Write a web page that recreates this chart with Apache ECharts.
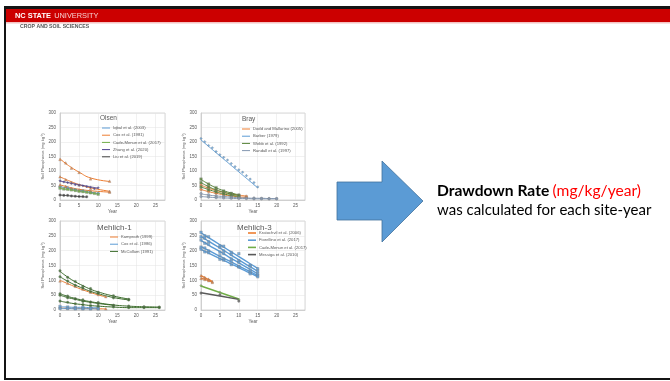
<!DOCTYPE html>
<html>
<head>
<meta charset="utf-8">
<script src="https://cdn.jsdelivr.net/npm/echarts/dist/echarts.min.js"></script>
<style>
html,body{margin:0;padding:0;background:#fff;}
#c{width:670px;height:381px;}
</style>
</head>
<body>
<div id="c"></div>
<script>
// Axis ticks shared by the four panels
const yearTicks = [0, 5, 10, 15, 20, 25];
const soilPTicks = [0, 50, 100, 150, 200, 250, 300];

// ---- Olsen ----
const olsenIqbalYears = [0, 2, 4, 6, 8, 10];
const olsenIqbalP   = [[46, 42, 35, 32, 26, 23]];
const olsenIqbalFit = [[46, 41, 36, 31, 27, 22]];

const olsenCoxYears = [0, 1.5, 3, 5, 8, 13];
const olsenCoxP   = [[140, 128, 110, 95, 73, 65], [80, 70, 60, 52, 40, 30], [52, 47, 40, 35, 30, 27]];
const olsenCoxFit = [[142, 126, 112, 96, 76, 64], [80, 71, 63, 53, 42, 30], [52, 47, 42, 37, 32, 27]];

const olsenCadeYears = [0, 1, 2, 3, 4, 5, 6, 7, 8, 9, 10];
const olsenCadeP   = [[41, 38, 37, 35, 33, 30, 29, 27, 25, 23, 20]];
const olsenCadeFit = [[40, 38, 36, 34, 32, 30, 28, 26, 24, 22, 20]];

const olsenZhangYears = [0, 1, 2, 3, 4, 5, 6, 7, 8, 9, 10];
const olsenZhangP   = [[66, 62, 60, 57, 53, 51, 49, 46, 44, 39, 42]];
const olsenZhangFit = [[65, 63, 60, 58, 55, 53, 50, 48, 45, 43, 40]];

const olsenLiuYears = [0, 1, 2, 3, 4, 5, 6, 7];
const olsenLiuP   = [[17, 16, 16, 14, 13, 12, 12, 11]];
const olsenLiuFit = [[17, 16, 15, 14, 13, 12, 11, 10]];

// ---- Bray ----
const brayDoddYears = [0, 2, 4, 6, 8, 10, 12];
const brayDoddP   = [[52, 42, 33, 26, 20, 16, 13], [36, 29, 23, 18, 14, 11, 9]];
const brayDoddFit = [[51, 41, 33, 26, 21, 17, 13], [36, 29, 23, 18, 14, 11, 9]];

const brayBarberYears = [0, 1, 2, 3, 4, 5, 6, 7, 8, 9, 10, 11, 12, 13, 14, 15];
const brayBarberP   = [[212, 201, 188, 180, 167, 156, 147, 138, 126, 115, 104, 96, 84, 72, 60, 45]];
const brayBarberFit = [[207, 196, 185, 174, 163, 152, 141, 130, 119, 108, 97, 86, 75, 64, 53, 42]];

const brayWebbYears = [0, 2, 4, 6, 8, 10];
const brayWebbP   = [[72, 55, 42, 31, 23, 17], [60, 46, 35, 26, 20, 15], [45, 35, 28, 21, 16, 12]];
const brayWebbFit = [[71, 55, 42, 32, 24, 18], [60, 46, 35, 27, 20, 15], [45, 36, 28, 21, 16, 12]];

const brayRandallYears = [0, 2, 4, 6, 8, 10, 12, 14, 16, 18, 20];
const brayRandallP   = [[22, 18, 14, 12, 10, 8, 7, 7, 6, 5, 5], [12, 10, 8, 7, 6, 5, 5, 4, 4, 4, 4]];
const brayRandallFit = [[21, 17, 14, 12, 10, 8, 7, 6, 6, 5, 5], [12, 10, 8, 7, 6, 5, 5, 4, 4, 4, 4]];

// ---- Mehlich-1 ----
const m1KamprathYears = [0, 2, 4, 6, 8, 10, 12];
const m1KamprathP   = [[98, 90, 80, 70, 60, 52, 45], [8, 6, 6, 5, 5, 4, 4]];
const m1KamprathFit = [[100, 89, 78, 68, 59, 51, 44], [7, 6, 6, 5, 5, 4, 4]];

const m1CoxYears = [0, 2, 4, 6, 8, 10];
const m1CoxP   = [[12, 10, 9, 9, 8, 8], [5, 5, 4, 4, 4, 4]];
const m1CoxFit = [[11, 10, 9, 9, 8, 8], [5, 5, 4, 4, 4, 4]];

const m1McCollumYears = [0, 2, 4, 6, 8, 10, 14, 18, 22, 26];
const m1McCollumP = [
  [132, 110, 96, 80, 72, 60, 48, 36, null, null],
  [112, 98, 83, 74, 62, 56, 41, 34, null, null],
  [55, 47, 38, 34, 27, 25, 16, 13, 11, 10],
  [50, 41, 37, 29, 26, 21, 15, null, null, null],
  [30, 26, 21, 18, 15, 13, 10, 8, 8, 8]
];
const m1McCollumFit = [
  [130, 111, 95, 82, 70, 61, 47, 37, null, null],
  [112, 97, 84, 73, 63, 55, 42, 34, null, null],
  [55, 46, 39, 33, 28, 24, 17, 13, 11, 10],
  [50, 42, 36, 30, 26, 22, 16, null, null, null],
  [30, 25, 21, 18, 15, 13, 10, 8, 8, 8]
];

// ---- Mehlich-3 ----
const m3KratochvilYears = [0, 1, 2, 3];
const m3KratochvilP   = [[116, 110, 104, 96], [106, 103, 99, 93]];
const m3KratochvilFit = [[116, 109, 103, 96], [107, 103, 99, 94]];

const m3FiorellinoYears = [0, 1, 2, 5, 6, 8, 10, 13, 15];
const m3FiorellinoP = [
  [262, 250, 247, 216, 215, 194, 190, 150, 139],
  [247, 242, 230, 211, 199, 187, 166, 148, 131],
  [236, 225, 221, 195, 190, 172, 161, 135, 123],
  [212, 209, 199, 183, 172, 164, 147, 127, 117],
  [205, 196, 193, 171, 168, 153, 145, 122, 112]
];
const m3FiorellinoFit = [
  [260, 252, 244, 220, 212, 196, 180, 156, 140],
  [248, 240, 232, 209, 201, 185, 169, 146, 130],
  [234, 227, 219, 197, 189, 174, 159, 137, 122],
  [214, 207, 201, 181, 175, 162, 149, 129, 116],
  [204, 198, 192, 173, 167, 155, 143, 124, 112]
];

const m3CadeYears = [0, 5, 10];
const m3CadeP   = [[82, 60, 36]];
const m3CadeFit = [[81, 59, 37]];

const m3MessigaYears = [0, 5, 10];
const m3MessigaP   = [[57, 51, 30]];
const m3MessigaFit = [[58, 47, 36]];

// Panel layout and study styling
const panels = [
  { title: 'Olsen', grid: { left: 60, top: 113, width: 105, height: 87 },
    titlePos: { left: 100, top: 115 }, legendPos: { left: 102, top: 126 }, lineW: 1,
    studies: [
      { name: 'Iqbal et al. (2003)', color: '#5B9BD5', symbol: 'circle', years: olsenIqbalYears, p: olsenIqbalP, fit: olsenIqbalFit },
      { name: 'Cox et al. (1981)', color: '#ED7D31', symbol: 'triangle', years: olsenCoxYears, p: olsenCoxP, fit: olsenCoxFit },
      { name: 'Cade-Menun et al. (2017)', color: '#70AD47', symbol: 'rect', years: olsenCadeYears, p: olsenCadeP, fit: olsenCadeFit },
      { name: 'Zhang et al. (2020)', color: '#4B3F8F', symbol: 'diamond', years: olsenZhangYears, p: olsenZhangP, fit: olsenZhangFit },
      { name: 'Liu et al. (2019)', color: '#404040', symbol: 'circle', years: olsenLiuYears, p: olsenLiuP, fit: olsenLiuFit }
    ] },
  { title: 'Bray', grid: { left: 201, top: 113, width: 104, height: 87 },
    titlePos: { left: 242, top: 116 }, legendPos: { left: 242, top: 127 }, lineW: 1,
    studies: [
      { name: 'Dodd and Mallarino (2005)', color: '#ED7D31', symbol: 'circle', years: brayDoddYears, p: brayDoddP, fit: brayDoddFit },
      { name: 'Barber (1979)', color: '#5B9BD5', symbol: 'diamond', years: brayBarberYears, p: brayBarberP, fit: brayBarberFit },
      { name: 'Webb et al. (1992)', color: '#548235', symbol: 'rect', years: brayWebbYears, p: brayWebbP, fit: brayWebbFit },
      { name: 'Randall et al. (1997)', color: '#8497B0', symbol: 'circle', years: brayRandallYears, p: brayRandallP, fit: brayRandallFit }
    ] },
  { title: 'Mehlich-1', grid: { left: 60, top: 221, width: 105, height: 89 },
    titlePos: { left: 97, top: 224 }, legendPos: { left: 110, top: 235 }, lineW: 1,
    studies: [
      { name: 'Kamprath (1999)', color: '#ED7D31', symbol: 'triangle', years: m1KamprathYears, p: m1KamprathP, fit: m1KamprathFit },
      { name: 'Cox et al. (1986)', color: '#5B9BD5', symbol: 'rect', years: m1CoxYears, p: m1CoxP, fit: m1CoxFit },
      { name: 'McCollum (1991)', color: '#3A6B2A', symbol: 'circle', years: m1McCollumYears, p: m1McCollumP, fit: m1McCollumFit }
    ] },
  { title: 'Mehlich-3', grid: { left: 201, top: 221, width: 104, height: 89 },
    titlePos: { left: 237, top: 224 }, legendPos: { left: 248, top: 231 }, lineW: 1.4,
    studies: [
      { name: 'Kratochvil et al. (2006)', color: '#ED7D31', symbol: 'triangle', years: m3KratochvilYears, p: m3KratochvilP, fit: m3KratochvilFit },
      { name: 'Fiorellino et al. (2017)', color: '#5B9BD5', symbol: 'rect', years: m3FiorellinoYears, p: m3FiorellinoP, fit: m3FiorellinoFit },
      { name: 'Cade-Menun et al. (2017) ', color: '#70AD47', symbol: 'diamond', years: m3CadeYears, p: m3CadeP, fit: m3CadeFit },
      { name: 'Messiga et al. (2010)', color: '#595959', symbol: 'circle', years: m3MessigaYears, p: m3MessigaP, fit: m3MessigaFit }
    ] }
];

const labelColor = '#595959';
const grids = [], xAxes = [], yAxes = [], titles = [], legends = [], series = [];

panels.forEach((pn, g) => {
  grids.push(Object.assign({ show: true, borderColor: '#BFBFBF', borderWidth: 0.6, backgroundColor: '#fff' }, pn.grid));
  xAxes.push({
    gridIndex: g, type: 'value', min: yearTicks[0], max: 27.5, interval: yearTicks[1] - yearTicks[0],
    name: 'Year', nameLocation: 'middle', nameGap: 9,
    nameTextStyle: { fontSize: 4.5, color: labelColor, fontFamily: 'Liberation Sans' },
    axisLine: { show: true, lineStyle: { color: '#BFBFBF', width: 0.6 } },
    axisTick: { show: false },
    axisLabel: { fontSize: 4.5, color: labelColor, margin: 3, showMaxLabel: false, fontFamily: 'Liberation Sans',
      formatter: v => (yearTicks.indexOf(v) >= 0 ? String(v) : '') },
    splitLine: { show: true, lineStyle: { color: '#E3E3E3', width: 0.5 } }
  });
  yAxes.push({
    gridIndex: g, type: 'value', min: soilPTicks[0], max: soilPTicks[soilPTicks.length - 1],
    interval: soilPTicks[1] - soilPTicks[0],
    name: 'Soil Phosphorus (mg kg\u207B\u00B9)', nameLocation: 'middle', nameGap: 14,
    nameTextStyle: { fontSize: 4, color: labelColor, fontFamily: 'Liberation Sans' },
    axisLine: { show: true, lineStyle: { color: '#BFBFBF', width: 0.6 } },
    axisTick: { show: false },
    axisLabel: { fontSize: 4.5, color: labelColor, margin: 4, fontFamily: 'Liberation Sans' },
    splitLine: { show: true, lineStyle: { color: '#E3E3E3', width: 0.5 } }
  });
  titles.push({
    text: pn.title, left: pn.titlePos.left, top: pn.titlePos.top, padding: 0,
    textStyle: { fontSize: g < 2 ? 6.5 : 8, fontWeight: 'normal', color: labelColor, fontFamily: 'Liberation Sans' }
  });
  legends.push({
    data: pn.studies.map(s => s.name), left: pn.legendPos.left, top: pn.legendPos.top,
    orient: 'vertical', icon: 'rect', itemWidth: 8, itemHeight: pn.lineW > 1 ? 1.6 : 1,
    itemGap: 3.2, padding: 0, selectedMode: false,
    textStyle: { fontSize: 4.2, color: labelColor, padding: [0, 0, 0, -2], fontFamily: 'Liberation Sans' }
  });
  pn.studies.forEach(st => {
    st.fit.forEach((fitVals, i) => {
      series.push({
        type: 'line', name: i === 0 ? st.name : st.name + ' site ' + (i + 1),
        xAxisIndex: g, yAxisIndex: g, color: st.color, smooth: true, showSymbol: false, silent: true,
        lineStyle: { width: pn.lineW, color: st.color },
        data: st.years.map((yr, k) => [yr, fitVals[k]]).filter(d => d[1] !== null),
        z: 3
      });
    });
    st.p.forEach((vals, i) => {
      series.push({
        type: 'scatter', name: st.name + ' observed ' + (i + 1),
        xAxisIndex: g, yAxisIndex: g, symbol: st.symbol, symbolSize: 2.6, silent: true,
        itemStyle: { color: st.color, borderColor: '#7F7F7F', borderWidth: 0.4 },
        data: st.years.map((yr, k) => [yr, vals[k]]).filter(d => d[1] !== null),
        z: 4
      });
    });
  });
});

// Slide frame, header band, arrow and caption
const graphics = [
  { type: 'rect', shape: { x: 4, y: 6, width: 666, height: 3 }, style: { fill: '#141414' }, z: 10 },
  { type: 'rect', shape: { x: 4, y: 6, width: 2, height: 374 }, style: { fill: '#141414' }, z: 10 },
  { type: 'rect', shape: { x: 4, y: 378, width: 666, height: 2 }, style: { fill: '#141414' }, z: 10 },
  { type: 'rect', shape: { x: 6, y: 9, width: 664, height: 13 }, style: { fill: '#CC0000' }, z: 10 },
  { type: 'rect', shape: { x: 6, y: 22, width: 664, height: 1.5 }, style: { fill: '#F4C2C2' }, z: 10 },
  { type: 'text', x: 15, y: 16, z: 11, style: {
      text: '{a|NC STATE} {b|UNIVERSITY}', verticalAlign: 'middle',
      rich: {
        a: { fontSize: 7.4, fontWeight: 'bold', fill: '#ffffff', fontFamily: 'Liberation Sans' },
        b: { fontSize: 7.4, fill: '#F6D0D0', fontFamily: 'Liberation Sans' }
      } } },
  { type: 'text', x: 20, y: 26.5, z: 11, style: {
      text: 'CROP AND SOIL SCIENCES', verticalAlign: 'middle', fontSize: 5.2, fontWeight: 'bold',
      fill: '#555555', fontFamily: 'Liberation Sans' } },
  { type: 'polygon', z: 10, shape: { points: [[337, 182], [382, 182], [382, 161], [423, 201], [382, 242], [382, 220], [337, 220]] },
    style: { fill: '#5B9BD5', stroke: '#41719C', lineWidth: 0.8 } },
  { type: 'text', x: 437, y: 191, z: 11, style: {
      text: '{b|Drawdown Rate} {r|(mg/kg/year)}', verticalAlign: 'middle',
      rich: {
        b: { fontSize: 15.6, fontWeight: 'bold', fill: '#000000', fontFamily: 'Lato' },
        r: { fontSize: 15.6, fill: '#FF0000', fontFamily: 'Lato' }
      } } },
  { type: 'text', x: 437, y: 210, z: 11, style: {
      text: 'was calculated for each site-year', verticalAlign: 'middle', fontSize: 15,
      fill: '#000000', fontFamily: 'Lato' } }
];

const chart = echarts.init(document.getElementById('c'), null, { renderer: 'canvas' });
chart.setOption({
  backgroundColor: '#ffffff',
  animation: false,
  title: titles,
  legend: legends,
  grid: grids,
  xAxis: xAxes,
  yAxis: yAxes,
  series: series,
  graphic: graphics
});
</script>
</body>
</html>
